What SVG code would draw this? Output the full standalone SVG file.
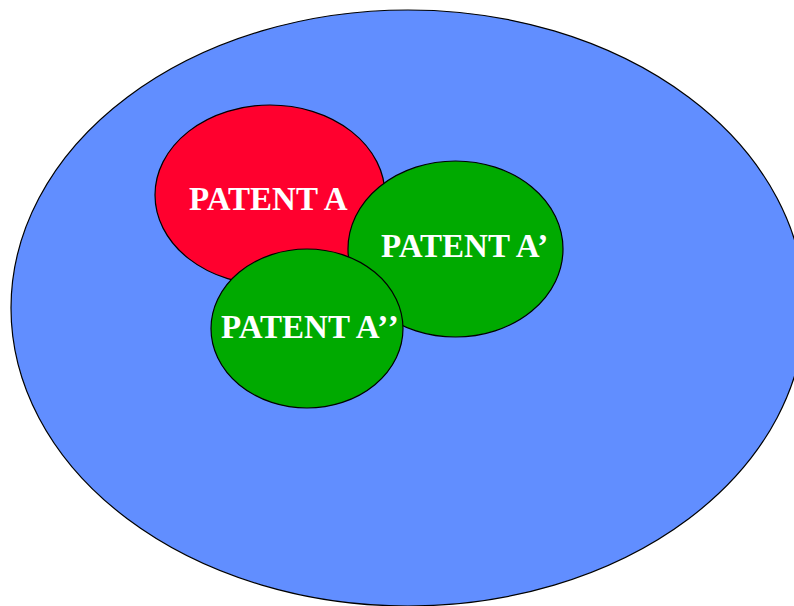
<svg xmlns="http://www.w3.org/2000/svg" width="794" height="606" viewBox="0 0 794 606">
  <style>
    .shape { stroke: #000000; stroke-width: 1.2; }
    .label { font-family: "Liberation Serif", "Times New Roman", serif; font-weight: bold; font-size: 33px; fill: #ffffff; }
  </style>
  <rect width="794" height="606" fill="#ffffff"/>
  <g id="universe">
    <ellipse class="shape" cx="408" cy="308" rx="397" ry="298" fill="#618EFF"/>
  </g>
  <g id="patent-a">
    <ellipse class="shape" cx="270" cy="195" rx="115" ry="90" fill="#FF002E"/>
    <text class="label" x="189" y="210">PATENT A</text>
  </g>
  <g id="patent-a-prime">
    <ellipse class="shape" cx="455.5" cy="249" rx="107.5" ry="88" fill="#00AA00"/>
    <text class="label" x="381" y="257">PATENT A’</text>
  </g>
  <g id="patent-a-double-prime">
    <ellipse class="shape" cx="307" cy="328.5" rx="96" ry="79.5" fill="#00AA00"/>
    <text class="label" x="221" y="338">PATENT A’<tspan dx="2">’</tspan></text>
  </g>
  <g id="connectors"/>
</svg>
